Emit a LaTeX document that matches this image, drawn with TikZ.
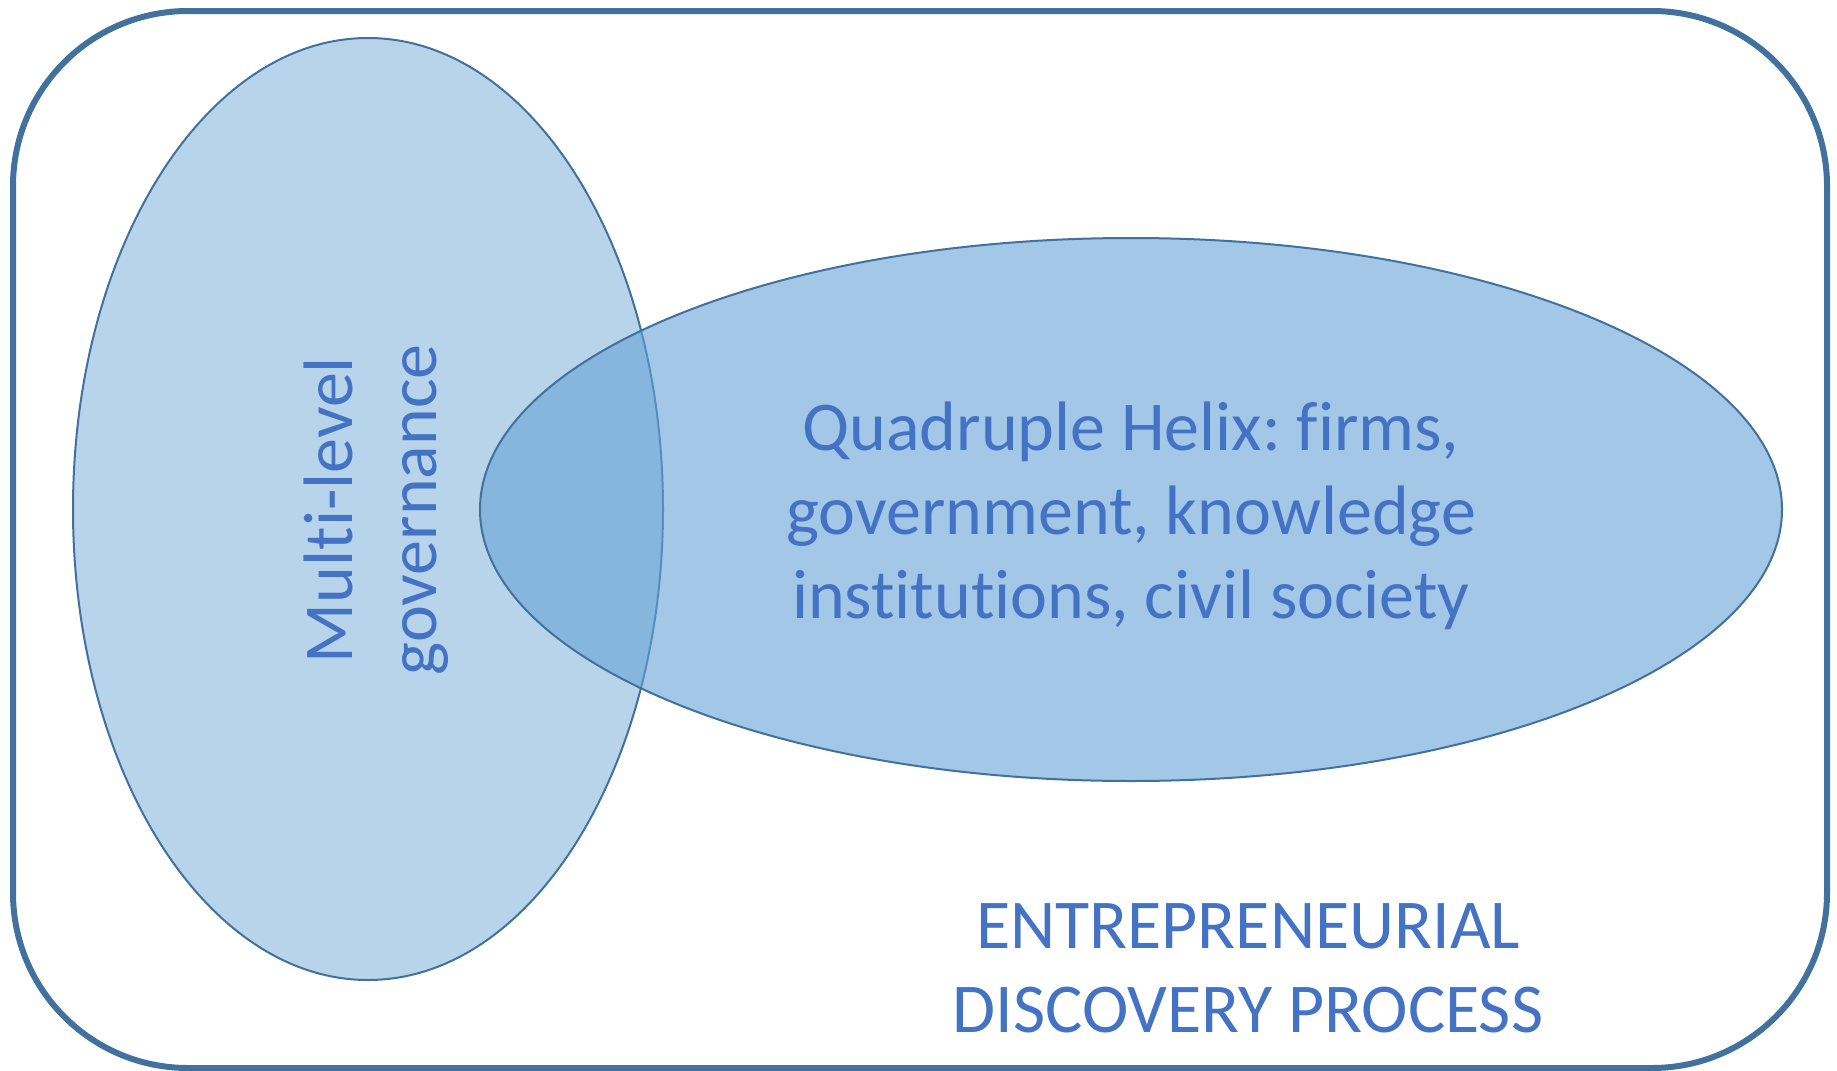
\documentclass[tikz,border=0pt]{standalone}
\usepackage{fontspec}
\setmainfont[Ligatures=NoCommon]{Carlito}
\usetikzlibrary{shapes.geometric}
\definecolor{edgeblue}{RGB}{65,113,156}
\definecolor{lightfill}{RGB}{184,212,234}
\definecolor{midfill}{RGB}{101,161,215}
\definecolor{textblue}{RGB}{68,114,196}
\tikzset{
  frame/.style={draw=edgeblue, line width=6pt, rounded corners=175pt},
  blob/.style={ellipse, draw=edgeblue, line width=2pt, inner sep=0pt, outer sep=0pt},
  label/.style={text=textblue, align=center, inner sep=0pt, font=\fontsize{70}{84}\selectfont\frenchspacing}
}
\begin{document}
\begin{tikzpicture}[x=1pt,y=-1pt]
\useasboundingbox (0,0) rectangle (1837,1071);
\draw[frame] (13,11) rectangle (1827,1068);
\node[blob, fill=lightfill, minimum width=590pt, minimum height=942pt] (mlg) at (368,509) {};
\node[blob, fill=midfill, fill opacity=0.6, minimum width=1302pt, minimum height=543pt] (qh) at (1131,509.5) {};
\node[label, rotate=90] (mlgtext) at (376,510) {Multi-level\\governance};
\node[label] (qhtext) at (1131,516) {Quadruple Helix: firms,\\government, knowledge\\institutions, civil society};
\node[label, anchor=south] (edp) at (1248,1033) {ENTREPRENEURIAL\\DISCOVERY PROCESS};
\end{tikzpicture}
\end{document}
